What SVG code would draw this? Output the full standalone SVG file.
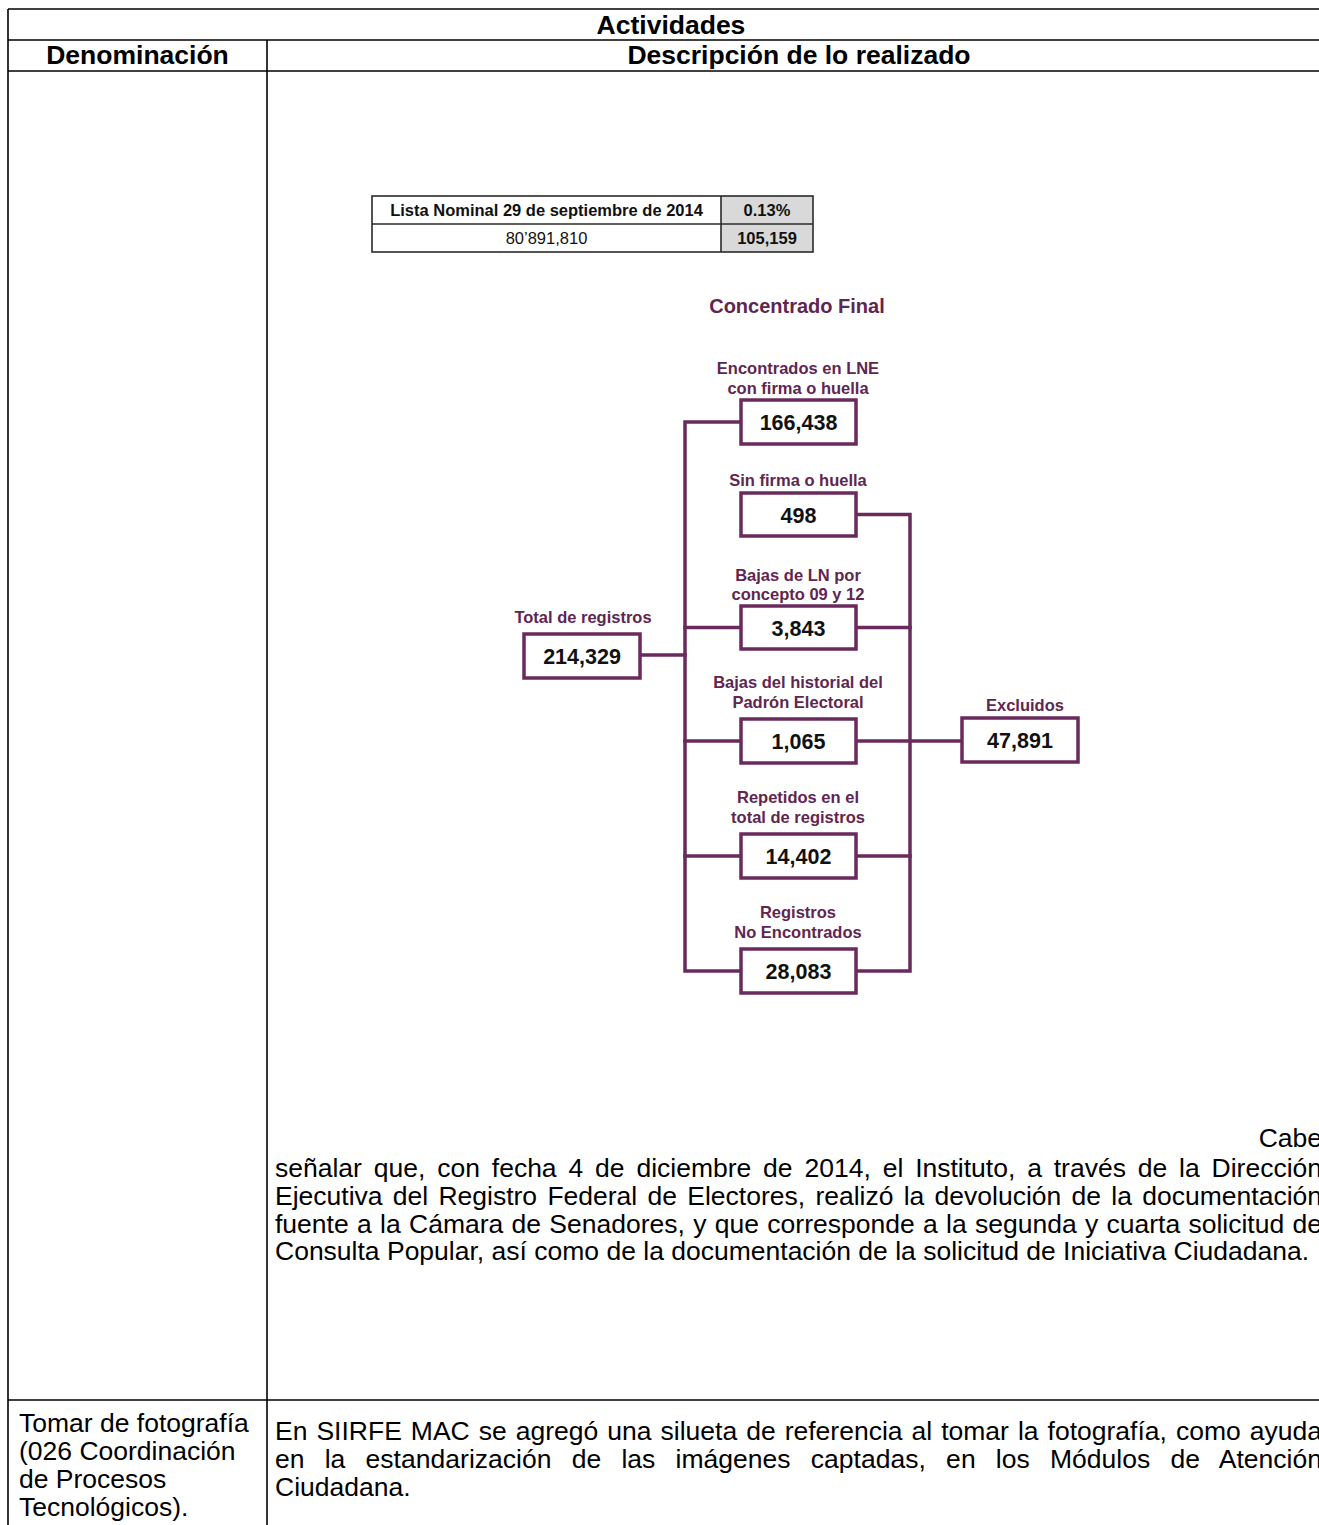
<svg xmlns="http://www.w3.org/2000/svg" width="1319" height="1525" viewBox="0 0 1319 1525">
<style>
text{font-family:"Liberation Sans",Arial,sans-serif;}
.hd{font-size:26.5px;font-weight:bold;fill:#000;text-anchor:middle;}
.body{font-size:26.5px;fill:#000;}
.grid{stroke:#000;stroke-width:1.6;fill:none;}
.tb{stroke:#2a2a2a;stroke-width:1.6;}
.tt{font-size:16.5px;font-weight:bold;fill:#111;text-anchor:middle;}
.tr{font-size:16.5px;fill:#111;text-anchor:middle;}
.box{fill:#fff;stroke:#6b2a5e;stroke-width:3.5;}
.con{fill:none;stroke:#6b2a5e;stroke-width:3.5;stroke-linecap:square;}
.lbl{font-size:16.5px;font-weight:bold;fill:#5f2652;text-anchor:middle;}
.num{font-size:21.5px;font-weight:bold;fill:#111;text-anchor:middle;}
</style>
<rect x="0" y="0" width="1319" height="1525" fill="#fff"/>
<g id="table-grid" class="grid">
<line x1="8" y1="9" x2="1319" y2="9"/>
<line x1="8" y1="40" x2="1319" y2="40"/>
<line x1="8" y1="71" x2="1319" y2="71"/>
<line x1="8" y1="1400" x2="1319" y2="1400"/>
<line x1="8" y1="9" x2="8" y2="1525"/>
<line x1="267" y1="40" x2="267" y2="1525"/>
</g>
<g id="header">
<text class="hd" x="671" y="34">Actividades</text>
<text class="hd" x="137.5" y="64">Denominación</text>
<text class="hd" x="799" y="64">Descripción de lo realizado</text>
</g>
<g id="lista-nominal-table">
<rect x="721" y="196" width="92" height="56" fill="#d9d9d9"/>
<rect x="372" y="196" width="441" height="56" fill="none" class="tb"/>
<line class="tb" x1="372" y1="224" x2="813" y2="224"/>
<line class="tb" x1="721" y1="196" x2="721" y2="252"/>
<text class="tt" x="546.5" y="215.5">Lista Nominal 29 de septiembre de 2014</text>
<text class="tt" x="767" y="215.5">0.13%</text>
<text class="tr" x="546.5" y="244">80’891,810</text>
<text class="tt" x="767" y="244">105,159</text>
</g>
<text id="title" x="797" y="313" style="font-size:20px;font-weight:bold;fill:#5f2652;text-anchor:middle">Concentrado Final</text>
<g id="connectors">
<path class="con" d="M640,655 H685"/>
<path class="con" d="M741,422 H685 V971 H741"/>
<path class="con" d="M685,627.5 H741"/>
<path class="con" d="M685,741 H741"/>
<path class="con" d="M685,856 H741"/>
<path class="con" d="M856,514.5 H910 V971 H856"/>
<path class="con" d="M856,627.5 H910"/>
<path class="con" d="M856,741 H962"/>
<path class="con" d="M856,856 H910"/>
</g>
<g id="node-total">
<text class="lbl" x="583" y="623">Total de registros</text>
<rect class="box" x="524" y="634" width="116" height="44"/>
<text class="num" x="582" y="664">214,329</text>
</g>
<g id="node-encontrados">
<text class="lbl" x="798" y="374">Encontrados en LNE</text>
<text class="lbl" x="798" y="394">con firma o huella</text>
<rect class="box" x="741" y="400" width="115" height="44"/>
<text class="num" x="798.5" y="430">166,438</text>
</g>
<g id="node-sin-firma">
<text class="lbl" x="798" y="486">Sin firma o huella</text>
<rect class="box" x="741" y="493" width="115" height="43"/>
<text class="num" x="798.5" y="522.5">498</text>
</g>
<g id="node-bajas-ln">
<text class="lbl" x="798" y="581">Bajas de LN por</text>
<text class="lbl" x="798" y="600">concepto 09 y 12</text>
<rect class="box" x="741" y="606" width="115" height="43"/>
<text class="num" x="798.5" y="636">3,843</text>
</g>
<g id="node-bajas-historial">
<text class="lbl" x="798" y="688">Bajas del historial del</text>
<text class="lbl" x="798" y="708">Padrón Electoral</text>
<rect class="box" x="741" y="719" width="115" height="44"/>
<text class="num" x="798.5" y="749">1,065</text>
</g>
<g id="node-repetidos">
<text class="lbl" x="798" y="803">Repetidos en el</text>
<text class="lbl" x="798" y="823">total de registros</text>
<rect class="box" x="741" y="834" width="115" height="44"/>
<text class="num" x="798.5" y="864">14,402</text>
</g>
<g id="node-no-encontrados">
<text class="lbl" x="798" y="918">Registros</text>
<text class="lbl" x="798" y="938">No Encontrados</text>
<rect class="box" x="741" y="949" width="115" height="44"/>
<text class="num" x="798.5" y="979">28,083</text>
</g>
<g id="node-excluidos">
<text class="lbl" x="1025" y="711">Excluidos</text>
<rect class="box" x="962" y="718" width="116" height="44"/>
<text class="num" x="1020" y="748">47,891</text>
</g>
<g id="paragraph">
<text class="body" x="1322" y="1147" text-anchor="end">Cabe</text>
<text class="body" x="275" y="1177" word-spacing="4.5" textLength="1047" lengthAdjust="spacing">señalar que, con fecha 4 de diciembre de 2014, el Instituto, a través de la Dirección</text>
<text class="body" x="275" y="1205" word-spacing="2.93" textLength="1047" lengthAdjust="spacing">Ejecutiva del Registro Federal de Electores, realizó la devolución de la documentación</text>
<text class="body" x="275" y="1233" word-spacing="0.96" textLength="1047" lengthAdjust="spacing">fuente a la Cámara de Senadores, y que corresponde a la segunda y cuarta solicitud de</text>
<text class="body" x="275" y="1260">Consulta Popular, así como de la documentación de la solicitud de Iniciativa Ciudadana.</text>
</g>
<g id="row-fotografia">
<text class="body" x="19" y="1432">Tomar de fotografía</text>
<text class="body" x="19" y="1460">(026 Coordinación</text>
<text class="body" x="19" y="1488">de Procesos</text>
<text class="body" x="19" y="1516">Tecnológicos).</text>
<text class="body" x="275" y="1440" word-spacing="1.66" textLength="1047" lengthAdjust="spacing">En SIIRFE MAC se agregó una silueta de referencia al tomar la fotografía, como ayuda</text>
<text class="body" x="275" y="1468" word-spacing="12.8" textLength="1047" lengthAdjust="spacing">en la estandarización de las imágenes captadas, en los Módulos de Atención</text>
<text class="body" x="275" y="1496">Ciudadana.</text>
</g>
</svg>
